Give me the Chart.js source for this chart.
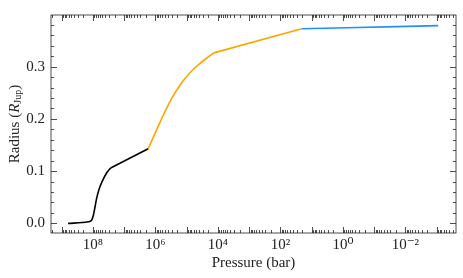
<!DOCTYPE html>
<html>
<head>
<meta charset="utf-8">
<script src="https://cdn.jsdelivr.net/npm/chart.js@4"></script>
<style>
  html, body { margin: 0; padding: 0; background: #fff; }
  #wrap { width: 463px; height: 278px; }
</style>
</head>
<body>
<div id="wrap"><canvas id="radiusChart" width="463" height="278"></canvas></div>
<script>
// pressure (bar) vs radius (R_Jup), three segments of the profile
// each coloured part = a curved bit + a straight bit after the kink
const pressureDeep = [6.2e8, 1.4e8, 1.1e8, 9.8e7, 8.7e7, 7.6e7, 6.3e7, 4.9e7, 3.6e7, 2.7e7];
const radiusDeep = [0.000, 0.003, 0.006, 0.014, 0.029, 0.048, 0.066, 0.082, 0.097, 0.106];
const pressureDeepLin = [2.7e7, 1.7e6];
const radiusDeepLin = [0.106, 0.143];

const pressureMid = [1.7e6, 1.17e6, 8.1e5, 5.6e5, 3.9e5, 2.7e5, 1.66e5, 1.0e5, 6.2e4, 3.8e4, 2.3e4, 1.35e4];
const radiusMid = [0.143, 0.1646, 0.1862, 0.207, 0.2265, 0.2441, 0.2641, 0.2812, 0.2946, 0.3059, 0.3162, 0.3265];
const pressureMidLin = [1.35e4, 21];
const radiusMidLin = [0.3265, 0.3726];

const pressureTop = [21, 0.76, 0.019, 8.9e-4];
const radiusTop = [0.3726, 0.3745, 0.3768, 0.3787];

const xTickValues = [1e8, 1e6, 1e4, 1e2, 1, 1e-2];
const xTickLabels = ["10⁸", "10⁶", "10⁴", "10²", "10⁰", "10⁻²"];
const yTickValues = [0.0, 0.1, 0.2, 0.3];
const yTickLabels = ["0.0", "0.1", "0.2", "0.3"];

const FONT = "'Liberation Serif', 'DejaVu Serif', serif";

function toPoints(xs, ys) {
    return xs.map((x, i) => ({ x: x, y: ys[i] }));
}

function lineSet(xs, ys, color, smooth) {
    return {
        data: toPoints(xs, ys),
        borderColor: color,
        borderWidth: 1.6,
        pointRadius: 0,
        fill: false,
        cubicInterpolationMode: smooth ? "monotone" : "default",
        tension: 0,
    };
}

// 안쪽 눈금, 테두리, y축 제목
const framePlugin = {
    id: "frame",
    afterDraw(chart) {
        const { ctx, chartArea: a, scales } = chart;
        const xs = scales.x, ys = scales.y;
        ctx.save();
        ctx.strokeStyle = "#222";
        ctx.lineWidth = 0.8;
        ctx.strokeRect(a.left, a.top, a.right - a.left, a.bottom - a.top);

        ctx.beginPath();
        // x: major + minor, bottom and top
        for (let e = -4; e <= 9; e++) {
            for (let m = 1; m <= 9; m++) {
                const v = m * Math.pow(10, e);
                if (v < xs.min || v > xs.max) continue;
                const px = Math.round(xs.getPixelForValue(v)) + 0.5;
                const len = (m === 1) ? 6 : 3;
                ctx.moveTo(px, a.bottom); ctx.lineTo(px, a.bottom - len);
                ctx.moveTo(px, a.top); ctx.lineTo(px, a.top + len);
            }
        }
        // y: major every 0.1, minor every 0.02
        for (let k = -1; k <= 20; k++) {
            const v = k * 0.02;
            if (v < ys.min || v > ys.max) continue;
            const py = Math.round(ys.getPixelForValue(v)) + 0.5;
            const len = (k % 5 === 0) ? 6 : 3;
            ctx.moveTo(a.left, py); ctx.lineTo(a.left + len, py);
            ctx.moveTo(a.right, py); ctx.lineTo(a.right - len, py);
        }
        ctx.stroke();

        // y title: Radius (R_Jup)
        const cy = (a.top + a.bottom) / 2;
        ctx.translate(15, cy);
        ctx.rotate(-Math.PI / 2);
        ctx.fillStyle = "#222";
        ctx.textBaseline = "middle";
        const parts = [
            { t: "Radius (", f: "15px " + FONT, dy: 0 },
            { t: "R", f: "italic 15px " + FONT, dy: 0 },
            { t: "Jup", f: "10px " + FONT, dy: 3.5 },
            { t: ")", f: "15px " + FONT, dy: 0 }
        ];
        let total = 0;
        parts.forEach(p => { ctx.font = p.f; total += ctx.measureText(p.t).width; });
        let x = -total / 2;
        parts.forEach(p => {
            ctx.font = p.f;
            ctx.fillText(p.t, x, p.dy);
            x += ctx.measureText(p.t).width;
        });
        ctx.restore();
    }
};

const ctx = document.getElementById("radiusChart").getContext("2d");
const radiusChart = new Chart(ctx, {
    type: "line",
    data: {
        datasets: [
            lineSet(pressureDeep, radiusDeep, "#000000", true),
            lineSet(pressureDeepLin, radiusDeepLin, "#000000", false),
            lineSet(pressureMid, radiusMid, "#FFA500", true),
            lineSet(pressureMidLin, radiusMidLin, "#FFA500", false),
            lineSet(pressureTop, radiusTop, "#1E90FF", false),
        ],
    },
    options: {
        responsive: false,
        animation: false,
        devicePixelRatio: 1,
        layout: { padding: { top: 6, right: 7, left: 0, bottom: 0 } },
        plugins: { legend: { display: false }, tooltip: { enabled: false } },
        scales: {
            x: {
                type: "logarithmic",
                reverse: true,
                min: 2.4e-4,
                max: 2.19e9,
                grid: { display: false, drawTicks: false, tickLength: 0 },
                border: { display: false },
                afterBuildTicks: (scale) => {
                    scale.ticks = xTickValues.map(v => ({ value: v }));
                },
                afterFit: (scale) => { scale.height = 45; },
                ticks: {
                    autoSkip: false,
                    maxRotation: 0,
                    padding: 3,
                    color: "#222",
                    font: { family: FONT, size: 15 },
                    callback: (value) => {
                        const i = xTickValues.findIndex(v => Math.abs(Math.log10(v) - Math.log10(value)) < 1e-6);
                        return i >= 0 ? xTickLabels[i] : "";
                    },
                },
                title: {
                    display: true,
                    text: "Pressure (bar)",
                    color: "#222",
                    font: { family: FONT, size: 15 },
                    padding: { top: 0, bottom: 6 },
                },
            },
            y: {
                min: -0.0184,
                max: 0.399,
                grid: { display: false, drawTicks: false, tickLength: 0 },
                border: { display: false },
                afterBuildTicks: (scale) => {
                    scale.ticks = yTickValues.map(v => ({ value: v }));
                },
                afterFit: (scale) => { scale.width = 51; },
                ticks: {
                    padding: 6,
                    color: "#222",
                    font: { family: FONT, size: 15 },
                    callback: (value) => {
                        const i = yTickValues.findIndex(v => Math.abs(v - value) < 1e-9);
                        return i >= 0 ? yTickLabels[i] : "";
                    },
                },
            },
        },
    },
    plugins: [framePlugin],
});
</script>
</body>
</html>
